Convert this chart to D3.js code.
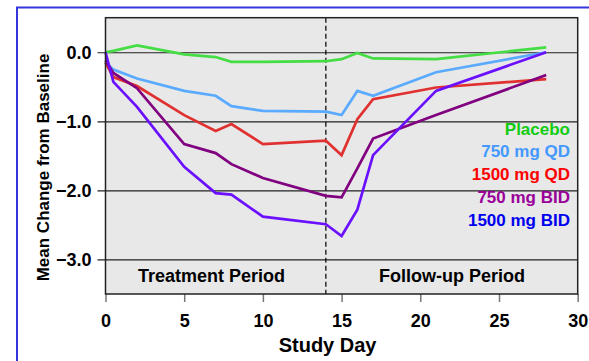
<!DOCTYPE html>
<html>
<head>
<meta charset="utf-8">
<script src="https://cdn.jsdelivr.net/npm/d3@7"></script>
<style>
  body { margin: 0; background: #fff; }
  svg { display: block; font-family: "Liberation Sans", Arial, sans-serif; font-weight: bold; }
</style>
</head>
<body>
<div id="chart"></div>
<script>
// Mean change from baseline by study day

const days = [0, 0.5, 2, 5, 7, 8, 10, 14, 15, 16, 17, 21, 28];
const placebo = [0, 0.02, 0.10, -0.03, -0.07, -0.14, -0.14, -0.13, -0.10, -0.01, -0.09, -0.10, 0.07];
const qd750 = [-0.15, -0.25, -0.38, -0.56, -0.63, -0.78, -0.85, -0.86, -0.91, -0.56, -0.63, -0.29, 0.0];
const qd1500 = [-0.15, -0.36, -0.49, -0.91, -1.14, -1.04, -1.33, -1.28, -1.49, -0.97, -0.68, -0.51, -0.39];
const bid750 = [-0.12, -0.30, -0.52, -1.33, -1.46, -1.62, -1.82, -2.08, -2.10, -1.68, -1.25, -0.91, -0.33];
const bid1500 = [0, -0.43, -0.79, -1.66, -2.04, -2.06, -2.38, -2.49, -2.66, -2.28, -1.49, -0.56, 0.0];

const seriesNames = ['Placebo', '750 mg QD', '1500 mg QD', '750 mg BID', '1500 mg BID'];
const xTicks = [0, 5, 10, 15, 20, 25, 30];
const yTicks = [0, -1, -2, -3];
const periodLabels = ['Treatment Period', 'Follow-up Period'];

const series = [
    { name: seriesNames[0], values: placebo, line: '#44dd44', text: '#11cc11' },
    { name: seriesNames[1], values: qd750, line: '#5aabff', text: '#4499ff' },
    { name: seriesNames[2], values: qd1500, line: '#e03030', text: '#ff0000' },
    { name: seriesNames[3], values: bid750, line: '#800080', text: '#990099' },
    { name: seriesNames[4], values: bid1500, line: '#6a10ff', text: '#0000ee' }
];

const W = 589, H = 361;
const plot = { left: 105.5, top: 17.7, right: 577.7, bottom: 294 };

const svg = d3.select('#chart').append('svg')
    .attr('width', W)
    .attr('height', H);

// outer blue frame (runs off the page at right and bottom)
svg.append('rect')
    .attr('x', 17).attr('y', 7.5)
    .attr('width', W).attr('height', H)
    .attr('fill', 'none')
    .attr('stroke', '#3535dd')
    .attr('stroke-width', 2);

const x = d3.scaleLinear().domain([0, 30]).range([plot.left, plot.right]);
const y = d3.scaleLinear().domain([-3.5, 0.5]).range([plot.bottom, plot.top]);

svg.append('rect')
    .attr('x', plot.left).attr('y', plot.top)
    .attr('width', plot.right - plot.left)
    .attr('height', plot.bottom - plot.top)
    .attr('fill', '#e8e8e8');

// horizontal grid + y ticks
const yAxis = svg.append('g')
    .attr('transform', `translate(${plot.left},0)`)
    .call(d3.axisLeft(y).tickValues(yTicks).tickFormat(d3.format('.1f'))
        .tickSizeInner(-(plot.right - plot.left)).tickSizeOuter(0).tickPadding(14));
yAxis.select('.domain').remove();
yAxis.selectAll('.tick line')
    .attr('x1', -8)
    .attr('stroke', '#222')
    .attr('stroke-width', 1.2);
yAxis.selectAll('.tick text')
    .attr('font-size', 18)
    .attr('font-family', '"Liberation Sans", Arial, sans-serif')
    .attr('font-weight', 'bold')
    .attr('fill', '#000');

// x axis
const xAxis = svg.append('g')
    .attr('transform', `translate(0,${plot.bottom})`)
    .call(d3.axisBottom(x).tickValues(xTicks).tickSizeInner(8).tickSizeOuter(0).tickPadding(12));
xAxis.select('.domain').remove();
xAxis.selectAll('.tick line').attr('stroke', '#777').attr('stroke-width', 1.5);
xAxis.selectAll('.tick text')
    .attr('font-size', 18)
    .attr('font-family', '"Liberation Sans", Arial, sans-serif')
    .attr('font-weight', 'bold')
    .attr('fill', '#000');

// period divider
svg.append('line')
    .attr('x1', x(14)).attr('x2', x(14))
    .attr('y1', plot.top).attr('y2', plot.bottom)
    .attr('stroke', '#000')
    .attr('stroke-width', 1.2)
    .attr('stroke-dasharray', '5,3');

svg.append('text')
    .attr('x', 211.5).attr('y', 282)
    .attr('text-anchor', 'middle')
    .attr('font-size', 18)
    .text(periodLabels[0]);
svg.append('text')
    .attr('x', 452).attr('y', 282)
    .attr('text-anchor', 'middle')
    .attr('font-size', 18)
    .text(periodLabels[1]);

// series lines
const line = d3.line()
    .x((d, i) => x(days[i]))
    .y(d => y(d));

svg.append('g').selectAll('path')
    .data(series)
    .join('path')
    .attr('d', d => line(d.values))
    .attr('fill', 'none')
    .attr('stroke', d => d.line)
    .attr('stroke-width', 2.7)
    .attr('stroke-linejoin', 'miter');

// plot frame
svg.append('rect')
    .attr('x', plot.left).attr('y', plot.top)
    .attr('width', plot.right - plot.left)
    .attr('height', plot.bottom - plot.top)
    .attr('fill', 'none')
    .attr('stroke', '#222')
    .attr('stroke-width', 1.5);

// legend
svg.append('g').selectAll('text')
    .data(series)
    .join('text')
    .attr('x', 570)
    .attr('y', (d, i) => 134.5 + i * 22.8)
    .attr('text-anchor', 'end')
    .attr('font-size', 17)
    .attr('fill', d => d.text)
    .text(d => d.name);

// axis titles
svg.append('text')
    .attr('x', (plot.left + plot.right) / 2 - 14)
    .attr('y', 352)
    .attr('text-anchor', 'middle')
    .attr('font-size', 20)
    .text('Study Day');

svg.append('text')
    .attr('transform', 'translate(48.5,167.5) rotate(-90)')
    .attr('text-anchor', 'middle')
    .attr('font-size', 17)
    .text('Mean Change from Baseline');
</script>
</body>
</html>
